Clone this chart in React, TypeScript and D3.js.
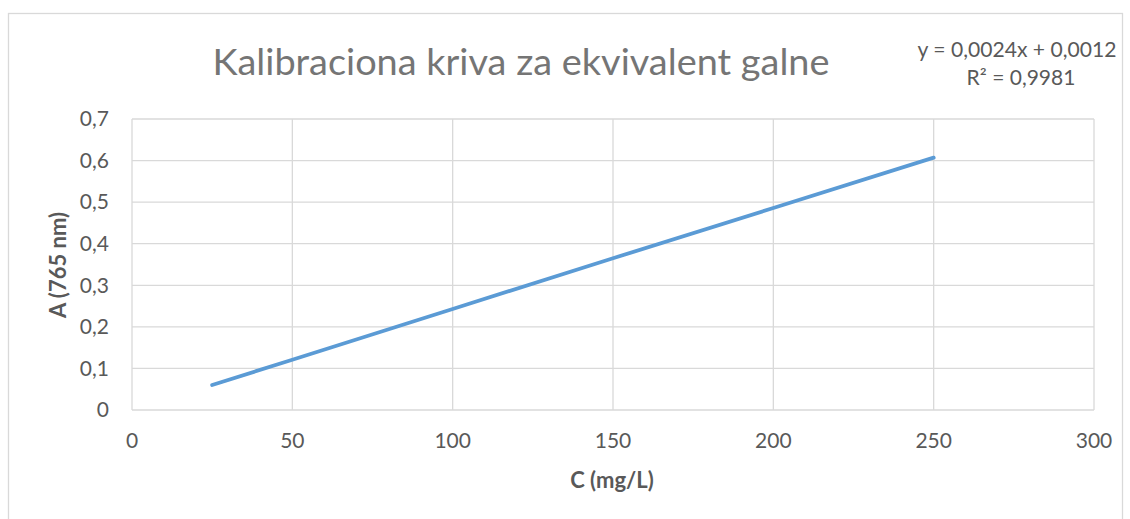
import React from "react";
import * as d3 from "d3";

const concentrations = [25, 50, 100, 150, 200, 250];
const absorbances = [0.06, 0.121, 0.243, 0.365, 0.486, 0.607];
const xTicks = [0, 50, 100, 150, 200, 250, 300];
const yTicks = [0, 0.1, 0.2, 0.3, 0.4, 0.5, 0.6, 0.7];
const titleText = "Kalibraciona kriva za ekvivalent galne";
const equationText = "y = 0,0024x + 0,0012";
const r2Text = "R² = 0,9981";
const xTitle = "C (mg/L)";
const yTitle = "A (765 nm)";

const W = 1130;
const H = 519;
const M = { left: 132, right: 1094, top: 119, bottom: 410 };
const FONT = "Lato, 'Open Sans', sans-serif";

export default function App() {
  const x = d3.scaleLinear().domain([0, 300]).range([M.left, M.right]);
  const y = d3.scaleLinear().domain([0, 0.7]).range([M.bottom, M.top]);
  const pts = concentrations.map((c, i) => [c, absorbances[i]] as [number, number]);
  const line = d3.line<[number, number]>().x((d) => x(d[0])).y((d) => y(d[1]));
  const fmt = (v: number) => (v === 0 ? "0" : d3.format(".1f")(v).replace(".", ","));

  return (
    <svg
      width={W}
      height={H}
      style={{ position: "absolute", left: 0, top: 0, background: "#fff" }}
      fontFamily={FONT}
    >
      <rect x={8.5} y={13.5} width={1114} height={520} fill="#fff" stroke="#d9d9d9" strokeWidth={1.3} />
      {yTicks.map((t) => (
        <line key={"gy" + t} x1={M.left} x2={M.right} y1={y(t)} y2={y(t)} stroke="#d9d9d9" strokeWidth={1.3} />
      ))}
      {xTicks.map((t) => (
        <line key={"gx" + t} x1={x(t)} x2={x(t)} y1={M.top} y2={M.bottom} stroke="#d9d9d9" strokeWidth={1.3} />
      ))}
      {yTicks.map((t) => (
        <text key={"ty" + t} x={109} y={y(t)} dy="0.35em" textAnchor="end" fontSize={21} fill="#595959">
          {fmt(t)}
        </text>
      ))}
      {xTicks.map((t) => (
        <text key={"tx" + t} x={x(t)} y={448} textAnchor="middle" fontSize={21} fill="#595959">
          {t}
        </text>
      ))}
      <path d={line(pts) || ""} fill="none" stroke="#5b9bd5" strokeWidth={3.8} strokeLinecap="round" strokeLinejoin="round" />
      <text x={521} y={75} textAnchor="middle" fontSize={37} fill="#757575" textLength={617} lengthAdjust="spacingAndGlyphs">
        {titleText}
      </text>
      <text x={1017} y={57} textAnchor="middle" fontSize={21} fill="#595959" textLength={199} lengthAdjust="spacingAndGlyphs">
        {equationText}
      </text>
      <text x={1021} y={85} textAnchor="middle" fontSize={21} fill="#595959">
        {r2Text}
      </text>
      <text x={612} y={488} textAnchor="middle" fontSize={22} fontWeight="bold" fill="#595959">
        {xTitle}
      </text>
      <text
        transform={`translate(66,265) rotate(-90)`}
        textAnchor="middle"
        fontSize={22}
        fontWeight="bold"
        fill="#595959"
      >
        {yTitle}
      </text>
    </svg>
  );
}
